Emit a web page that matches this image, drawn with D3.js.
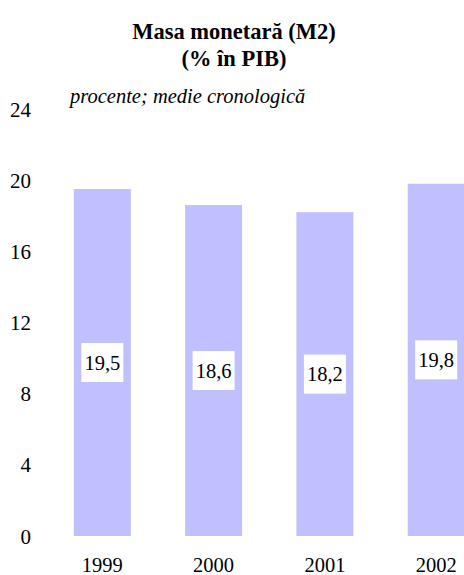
<!DOCTYPE html>
<html>
<head>
<meta charset="utf-8">
<script src="https://cdn.jsdelivr.net/npm/d3@7"></script>
<style>
  html, body { margin: 0; padding: 0; background: #fff; overflow: hidden; }
  svg text { font-family: "Liberation Serif", Tinos, "Times New Roman", "DejaVu Serif", serif !important; fill: #000; }
</style>
</head>
<body>
<svg id="chart" width="464" height="575"></svg>
<script>
// M2 money supply as share of GDP, chronological average
const years = ["1999", "2000", "2001", "2002"];
const values = [19.5, 18.6, 18.2, 19.8];
const valueLabels = ["19,5", "18,6", "18,2", "19,8"];
const yTicks = [0, 4, 8, 12, 16, 20, 24];
const titleLines = ["Masa monetară (M2)", "(% în PIB)"];
const subtitle = "procente; medie cronologică";

const serif = "'Liberation Serif', Tinos, 'Times New Roman', 'DejaVu Serif', serif";
const svg = d3.select("#chart");

const x = d3.scaleBand()
  .domain(years)
  .range([46, 492.5])
  .paddingInner(0.488)
  .paddingOuter(0.25);

const y = d3.scaleLinear()
  .domain([0, 24])
  .range([536, 109]);

// Title
svg.append("g").selectAll("text")
  .data(titleLines)
  .join("text")
  .attr("x", 234)
  .attr("y", (d, i) => 39 + i * 27)
  .attr("text-anchor", "middle")
  .attr("font-family", serif)
  .attr("font-size", 22.5)
  .attr("font-weight", "bold")
  .text(d => d);

// Subtitle
svg.append("text")
  .attr("x", 70)
  .attr("y", 103)
  .attr("font-family", serif)
  .attr("font-size", 20.5)
  .attr("font-style", "italic")
  .text(subtitle);

// Y axis (labels only)
const yAxis = d3.axisLeft(y).tickValues(yTicks).tickSize(0).tickPadding(0);
const gy = svg.append("g").attr("transform", "translate(31,0)").call(yAxis)
  .attr("font-family", serif);
gy.select(".domain").remove();
gy.selectAll("text")
  .attr("font-size", 21)
  .attr("dy", "0.34em");

// Bars
svg.append("g").selectAll("rect")
  .data(values)
  .join("rect")
  .attr("x", (d, i) => x(years[i]))
  .attr("width", x.bandwidth())
  .attr("y", d => y(d))
  .attr("height", d => y(0) - y(d))
  .attr("fill", "#c0c0ff");

// Value labels in white boxes, centred on bar midpoint
const lbl = svg.append("g").selectAll("g")
  .data(values)
  .join("g")
  .attr("transform", (d, i) => `translate(${x(years[i]) + x.bandwidth() / 2},${y(d / 2)})`);
lbl.append("rect")
  .attr("x", -21).attr("y", -19.5)
  .attr("width", 42).attr("height", 39)
  .attr("fill", "#fff");
lbl.append("text")
  .attr("text-anchor", "middle")
  .attr("dy", "0.34em")
  .attr("font-family", serif)
  .attr("font-size", 20.5)
  .text((d, i) => valueLabels[i]);

// X axis labels
const xAxis = d3.axisBottom(x).tickSize(0).tickPadding(0);
const gx = svg.append("g").attr("transform", "translate(0,572)").call(xAxis)
  .attr("font-family", serif);
gx.select(".domain").remove();
gx.selectAll("text")
  .attr("font-size", 20.5)
  .attr("y", 0)
  .attr("dy", 0);
</script>
</body>
</html>
